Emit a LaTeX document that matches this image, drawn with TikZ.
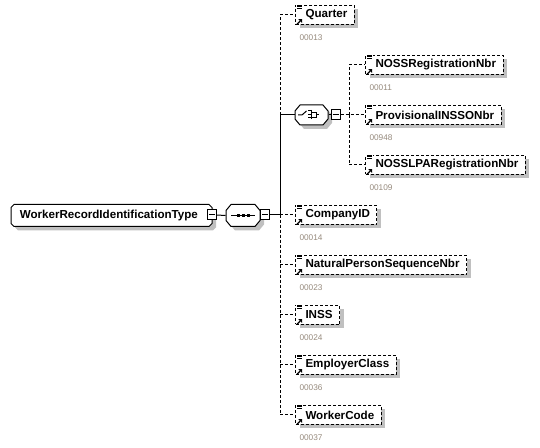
\documentclass[tikz,border=0pt]{standalone}
\usepackage{fontspec}
\setmainfont{Liberation Sans}
\usetikzlibrary{shadows,calc}
\definecolor{shadowgray}{RGB}{192,192,192}
\definecolor{numcol}{RGB}{150,138,125}
\newcommand\elicon[1]{%
  \fill[white] ($(#1.north west)+(1,-1)$) rectangle ++(7,5);
  \draw[line width=0.45pt] ($(#1.north west)+(2,0)$) -- ++(5,0);
  \draw[line width=0.45pt] ($(#1.north west)+(2,1.8)$) -- ++(4.5,0);
  \draw[line width=0.45pt] ($(#1.north west)+(2,3.6)$) -- ++(4.5,0);
  \draw[line width=0.9pt] ($(#1.south west)+(2,-0.8)$) -- ++(3.2,-3.2);
  \fill ($(#1.south west)+(7,-5.8)$) -- ++(-3.6,0) -- ++(3.6,3.6) -- cycle;
}
% chamfered outline: #1 x1, #2 y1, #3 x2, #4 y2, #5 chamfer x, #6 chamfer y
\newcommand\chamshape[6]{%
  \fill[shadowgray] ({#1+#5+4},{#2+4}) -- ({#3-#5+4},{#2+4}) -- ({#3+4},{#2+#6+4}) -- ({#3+4},{#4-#6+4})
    -- ({#3-#5+4},{#4+4}) -- ({#1+#5+4},{#4+4}) -- ({#1+4},{#4-#6+4}) -- ({#1+4},{#2+#6+4}) -- cycle;
  \draw[fill=white] ({#1+#5},#2) -- ({#3-#5},#2) -- (#3,{#2+#6}) -- (#3,{#4-#6})
    -- ({#3-#5},#4) -- ({#1+#5},#4) -- (#1,{#4-#6}) -- (#1,{#2+#6}) -- cycle;
}
\begin{document}
\begin{tikzpicture}[x=0.75pt,y=-0.75pt,line width=0.75pt,
  dsh/.style={dash pattern=on 2.25pt off 1.5pt},
  shad/.style={drop shadow={shadow xshift=3pt,shadow yshift=-3pt,fill=shadowgray,draw=none,opacity=1}},
  elem/.style={draw,dsh,fill=white,anchor=west,minimum height=14.25pt,inner ysep=0pt,
    inner xsep=5.25pt,execute at begin node={\hspace*{2.25pt}},
    font=\fontsize{8.7pt}{10pt}\selectfont\bfseries,shad},
  numlbl/.style={anchor=west,inner sep=0pt,font=\fontsize{6.2pt}{7pt}\selectfont,text=numcol},
  minusbox/.style={draw,fill=white,inner sep=0pt,minimum width=6.75pt,minimum height=7.5pt},
  frame/.style={draw=none,inner sep=0pt}]
\useasboundingbox (0,0) rectangle (540,448);

% root
\chamshape{11}{204.5}{212}{226.5}{3}{3}
\node[frame,minimum width=150.75pt,minimum height=16.5pt,
  font=\fontsize{8.7pt}{10pt}\selectfont\bfseries] (root) at (111.5,215.5)
  {\hspace*{-4pt}WorkerRecordIdentificationType};
\node[minusbox] (rootm) at (211.5,215) {};
\draw ($(rootm.west)+(2,0)$) -- ($(rootm.east)+(-2,0)$);

% sequence
\chamshape{226}{204.5}{260}{226.5}{5}{6}
\node[frame,minimum width=25.5pt,minimum height=16.5pt] (seq) at (243,215.5) {};
\draw (231,215.5) -- (255,215.5);
\fill (236.5,214) rectangle ++(3,3);
\fill (241.5,214) rectangle ++(3,3);
\fill (246.5,214) rectangle ++(3,3);
\node[minusbox] (seqm) at (265,215) {};
\draw ($(seqm.west)+(2,0)$) -- ($(seqm.east)+(-2,0)$);
\draw (rootm.east) -- (seq.west);

% choice
\chamshape{295}{105}{328}{125}{5}{6}
\node[frame,minimum width=24.75pt,minimum height=15pt] (choice) at (311.5,115) {};
\draw (298,115) -- (302,115) -- (306.5,111);
\draw (308,111) -- (310.5,111) (308,114.3) -- (310.5,114.3) (308,117.5) -- (310.5,117.5);
\draw (311.7,110) -- (311.7,119.5);
\draw (311.7,112.3) -- (316.5,112.3) -- (316.5,117.5) -- (311.7,117.5) (316.5,115) -- (319,115);
\node[minusbox] (choicem) at (335.5,115) {};
\draw ($(choicem.west)+(2,0)$) -- ($(choicem.east)+(-2,0)$);
\draw (choice.east) -- (choicem.west);

% spine coordinates
\coordinate (sp) at (280,215);
\coordinate (spc) at (280,115);
\coordinate (sp2) at (349,115);

% elements
\node[elem] (quarter) at (295,15) {Quarter};
\node[elem] (noss) at (365,65) {NOSSRegistrationNbr};
\node[elem] (prov) at (365,115) {ProvisionalINSSONbr};
\node[elem] (lpa) at (365,165) {NOSSLPARegistrationNbr};
\node[elem] (comp) at (295,215) {CompanyID};
\node[elem] (nat) at (295,265) {NaturalPersonSequenceNbr};
\node[elem] (inss) at (295,315) {INSS};
\node[elem] (empl) at (295,365) {EmployerClass};
\node[elem] (work) at (295,415) {WorkerCode};

\foreach \n/\t in {quarter/00013,noss/00011,prov/00948,lpa/00109,comp/00014,nat/00023,inss/00024,empl/00036,work/00037}{
  \node[numlbl] (\n-num) at ($(\n.south west)+(4,12.5)$) {\t};
  \elicon{\n}
}

% connectors
\draw (seqm.east) -- (sp) |- (choice.west);
\draw[dsh] (spc) |- (quarter.west);
\draw[dsh] (sp) -- (comp.west);
\draw[dsh] (sp) |- (nat.west);
\draw[dsh] (sp) |- (inss.west);
\draw[dsh] (sp) |- (empl.west);
\draw[dsh] (sp) |- (work.west);
\draw[dsh] (choicem.east) -- (sp2) -- (prov.west);
\draw[dsh] (sp2) |- (noss.west);
\draw[dsh] (sp2) |- (lpa.west);
\end{tikzpicture}
\end{document}
